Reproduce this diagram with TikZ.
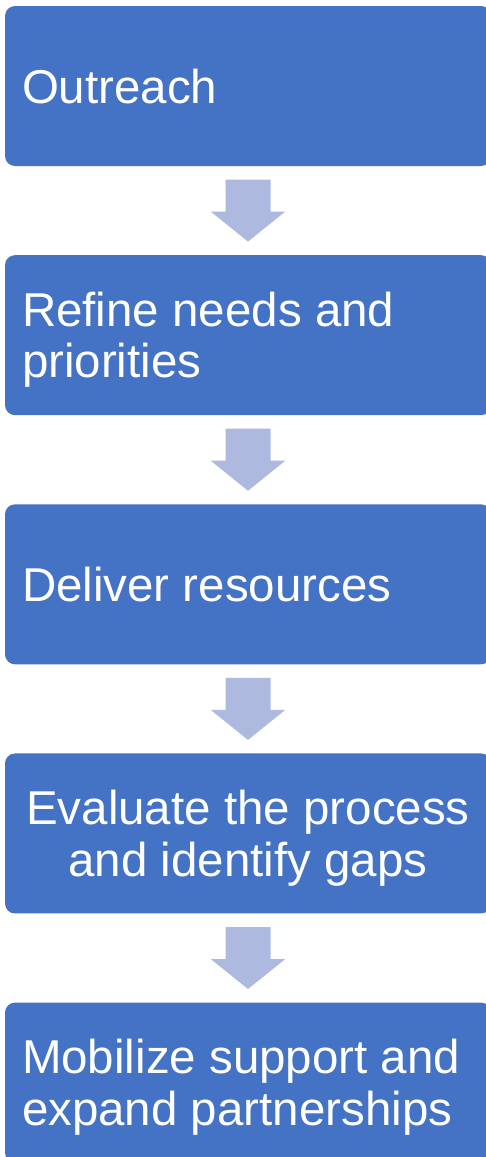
\documentclass[tikz,border=0pt]{standalone}
\usepackage{fontspec}
\setmainfont{Liberation Sans}
\usetikzlibrary{positioning,calc}
\definecolor{stepblue}{HTML}{4472C4}
\definecolor{arrowblue}{HTML}{ADB9DE}
\tikzset{
  stepbox/.style={fill=stepblue, rounded corners=10pt, text=white,
    minimum width=486pt, minimum height=160pt, inner xsep=17pt, inner ysep=0pt,
    text width=452pt, align=flush left, text height=34pt, text depth=0pt,
    font=\fontsize{47.5}{51.5}\selectfont},
  twolines/.style={text depth=51.5pt},
  flowarrow/.style={fill=arrowblue}
}
\begin{document}
\begin{tikzpicture}[x=1pt,y=-1pt]
      \useasboundingbox (0,0) rectangle (485,1157);
      \node[stepbox] (outreach) at (248,86) {Outreach};
      \node[stepbox, twolines, below=88.75pt of outreach] (refine) {Refine needs and\\priorities};
      \node[stepbox, below=88.75pt of refine] (deliver) {Deliver resources};
      \node[stepbox, twolines, align=flush center, below=88.75pt of deliver] (evaluate) {Evaluate the process\\and identify gaps};
      \node[stepbox, twolines, below=88.75pt of evaluate] (mobilize) {Mobilize support and\\expand partnerships};
      \begin{scope}[flowarrow]
        \foreach \a/\b in {outreach/refine, refine/deliver, deliver/evaluate, evaluate/mobilize}
          \fill ($(\a.south)!0.5!(\b.north)$) ++(-22.5,-31) -- ++(45,0) -- ++(0,32)
            -- ++(14.75,0) -- ++(-37.25,30) -- ++(-37.25,-30) -- ++(14.75,0) -- cycle;
      \end{scope}
    \end{tikzpicture}
\end{document}
